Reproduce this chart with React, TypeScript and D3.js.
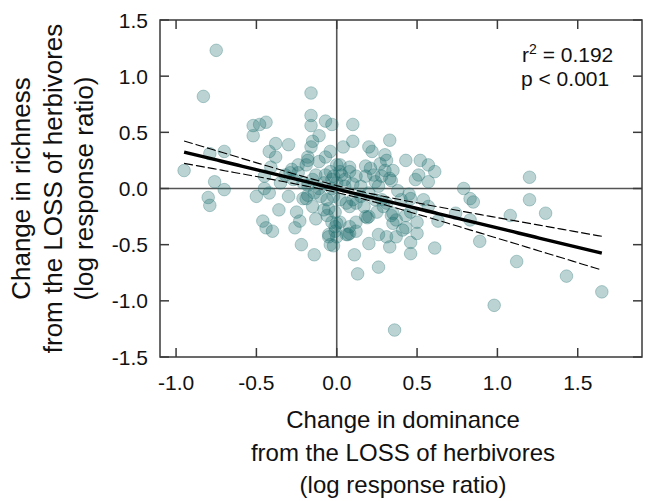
import React from "react";
import * as d3 from "d3";

const xTicks = [-1.0, -0.5, 0.0, 0.5, 1.0, 1.5];
const yTicks = [-1.5, -1.0, -0.5, 0.0, 0.5, 1.0, 1.5];

const dominance = [
  -0.75, -0.83, -0.16, -0.16, -0.16, -0.52, -0.48, -0.44, -0.52, -0.07, -0.03, 0.10, -0.11, -0.38, -0.30, -0.15, -0.16, -0.42, -0.38, -0.70,
  -0.79, -0.95, 0.04, 0.10, 0.20, 0.22, 0.33, 0.30, -0.04, -0.07, -0.18, -0.11, -0.24, -0.28, -0.41, -0.45, 0.08, 0.18, 0.21, 0.27,
  0.02, -0.02, 0.31, 0.35, 0.34, 0.43, 0.52, 0.57, 0.61, 0.51, 0.49, 0.57, 0.30, 0.00, 0.12, 0.02, 0.24, -0.18, -0.19, -0.04,
  -0.07, 0.03, 0.08, 0.18, 0.23, 0.28, 0.33, -0.13, -0.15, -0.18, -0.21, -0.27, -0.24, -0.29, -0.76, -0.70, -0.80, -0.79, -0.50, -0.45,
  -0.42, -0.36, -0.30, -0.25, -0.23, -0.26, -0.46, -0.44, -0.40, -0.22, -0.14, -0.02, -0.05, 0.02, 0.07, 0.11, 0.13, 0.20, 0.26, 0.26,
  0.18, 0.36, -0.19, 0.79, 0.83, 0.85, 1.20, 1.20, 1.30, 1.08, 0.89, 1.12, 1.43, 1.65, 0.98, 0.45, 0.46, 0.63, 0.61, 0.74,
  0.83, 0.50, 0.50, 0.46, 0.46, 0.41, 0.37, 0.33, 0.35, 0.34, 0.46, -0.21, -0.18, -0.14, -0.10, -0.06, -0.02, 0.02, 0.06, 0.10,
  0.15, 0.20, 0.24, 0.28, 0.31, -0.15, -0.08, -0.06, -0.13, -0.03, 0.00, -0.01, 0.00, 0.08, 0.12, 0.17, 0.20, 0.25, 0.29, 0.35,
  0.37, 0.43, 0.12, 0.08, 0.12, 0.06, -0.01, -0.05, -0.04, 0.08, 0.31, 0.43, 0.54, 0.57, -0.05, -0.01, -0.03, 0.00, -0.08, 0.05,
  0.10, -0.03, 0.15, 0.19, 0.05, -0.11, 0.26, 0.40, 0.38, -0.35, -0.32
];

const richness = [
  1.23, 0.82, 0.85, 0.65, 0.56, 0.56, 0.57, 0.59, 0.47, 0.60, 0.57, 0.57, 0.47, 0.40, 0.39, 0.42, 0.37, 0.33, 0.28, 0.33,
  0.31, 0.16, 0.37, 0.42, 0.37, 0.33, 0.43, 0.30, 0.33, 0.28, 0.28, 0.24, 0.21, 0.17, 0.19, 0.11, 0.19, 0.20, 0.18, 0.22,
  0.21, 0.11, 0.25, 0.16, 0.07, 0.25, 0.25, 0.21, 0.15, 0.12, 0.08, 0.06, 0.16, 0.21, 0.11, 0.15, 0.06, 0.25, 0.21, 0.15,
  0.12, 0.12, 0.15, 0.11, 0.12, 0.11, 0.09, 0.12, 0.08, 0.03, 0.05, 0.08, 0.14, 0.14, 0.06, -0.01, -0.08, -0.15, -0.07, 0.00,
  -0.04, -0.19, -0.07, -0.21, -0.29, -0.35, -0.29, -0.35, -0.38, -0.50, -0.59, -0.51, -0.43, -0.30, -0.41, -0.59, -0.76, -0.49, -0.70, -0.41,
  -0.25, -1.26, -0.09, 0.00, -0.09, -0.12, 0.10, -0.10, -0.22, -0.24, -0.47, -0.65, -0.78, -0.92, -1.04, -0.05, -0.09, -0.29, -0.53, -0.22,
  -0.28, -0.30, -0.40, -0.48, -0.58, -0.37, -0.43, -0.52, -0.31, -0.24, -0.21, -0.09, -0.06, -0.04, -0.07, -0.10, -0.07, -0.10, -0.13, -0.10,
  -0.07, -0.04, -0.10, -0.10, -0.13, -0.16, -0.19, -0.24, -0.27, -0.30, -0.31, -0.38, -0.43, -0.16, -0.13, -0.16, -0.25, -0.21, -0.16, -0.22,
  -0.28, -0.24, -0.30, -0.34, -0.38, -0.41, -0.34, -0.41, -0.50, -0.40, -0.43, -0.35, -0.10, -0.16, -0.18, -0.21, 0.08, 0.05, 0.05, 0.02,
  0.04, 0.00, 0.02, -0.26, 0.08, 0.00, 0.02, -0.10, -0.02, 0.05, 0.12
];

// fitted regression and its 95% confidence band
const fitRange = [-0.95, 1.65];
const fitIntercept = -0.005;
const fitSlope = -0.346;
const ciCenterX = 0.073;
const ciBase = 0.0009;
const ciSpread = 0.0087;

const statLines = ["r", "p < 0.001"];
const xTitle = ["Change in dominance", "from the LOSS of herbivores", "(log response ratio)"];
const yTitle = ["Change in richness", "from the LOSS of herbivores", "(log response ratio)"];

const fmt = (t: number) => d3.format(".1f")(t).replace("\u2212", "-");

export default function App() {
  const W = 670, H = 501;
  const left = 160, right = 642, top = 20, bottom = 357;
  const x = d3.scaleLinear().domain([-1.1, 1.9]).range([left, right]);
  const y = d3.scaleLinear().domain([-1.5, 1.5]).range([bottom, top]);

  const pts = dominance.map((d, i) => ({ x: d, y: richness[i] }));

  const xs = d3.range(0, 101).map((i) => fitRange[0] + (fitRange[1] - fitRange[0]) * i / 100);
  const fit = (v: number) => fitIntercept + fitSlope * v;
  const hw = (v: number) => Math.sqrt(ciBase + ciSpread * (v - ciCenterX) ** 2);
  const line = d3.line<number[]>().x((d) => x(d[0])).y((d) => y(d[1]));
  const mid = line(xs.map((v) => [v, fit(v)]))!;
  const up = line(xs.map((v) => [v, fit(v) + hw(v)]))!;
  const lo = line(xs.map((v) => [v, fit(v) - hw(v)]))!;

  const font = "'Liberation Sans', Arial, sans-serif";
  const tickLen = 9;
  const axisCol = "#3a3a3a";
  const ptCol = "#1e6e6c";
  const yMid = (top + bottom) / 2;

  return (
    <svg width={W} height={H} style={{ position: "absolute", left: 0, top: 0, background: "#fff" }} fontFamily={font}>
      <line x1={x(0)} x2={x(0)} y1={top} y2={bottom} stroke="#555" strokeWidth={1.6} />
      <line x1={left} x2={right} y1={y(0)} y2={y(0)} stroke="#555" strokeWidth={1.6} />

      {pts.map((p, i) => (
        <circle key={i} cx={x(p.x)} cy={y(p.y)} r={6.3} fill={ptCol} fillOpacity={0.3} stroke={ptCol} strokeOpacity={0.3} strokeWidth={1} />
      ))}

      <path d={up} fill="none" stroke="#000" strokeWidth={1.1} strokeDasharray="9,3" />
      <path d={lo} fill="none" stroke="#000" strokeWidth={1.1} strokeDasharray="9,3" />
      <path d={mid} fill="none" stroke="#000" strokeWidth={3.4} />

      <rect x={left} y={top} width={right - left} height={bottom - top} fill="none" stroke={axisCol} strokeWidth={1.5} />

      {xTicks.map((t) => (
        <g key={"x" + t}>
          <line x1={x(t)} x2={x(t)} y1={bottom} y2={bottom - tickLen} stroke={axisCol} strokeWidth={1.5} />
          <line x1={x(t)} x2={x(t)} y1={top} y2={top + tickLen} stroke={axisCol} strokeWidth={1.5} />
          <text x={x(t)} y={bottom + 33} fontSize={21} textAnchor="middle" fill="#111">{fmt(t)}</text>
        </g>
      ))}
      {yTicks.map((t) => (
        <g key={"y" + t}>
          <line x1={left} x2={left + tickLen} y1={y(t)} y2={y(t)} stroke={axisCol} strokeWidth={1.5} />
          <line x1={right} x2={right - tickLen} y1={y(t)} y2={y(t)} stroke={axisCol} strokeWidth={1.5} />
          <text x={left - 12} y={y(t)} dy="0.36em" fontSize={21} textAnchor="end" fill="#111">{fmt(t)}</text>
        </g>
      ))}

      <text x={522} y={62} fontSize={21} fill="#111">
        {statLines[0]}<tspan dy={-8} fontSize={14}>2</tspan><tspan dy={8}> = 0.192</tspan>
      </text>
      <text x={521} y={86} fontSize={21} fill="#111">{statLines[1]}</text>

      <g fontSize={24} fill="#111" textAnchor="middle">
        <text x={403} y={428}>{xTitle[0]}</text>
        <text x={403} y={461}>{xTitle[1]}</text>
        <text x={403} y={493}>{xTitle[2]}</text>
      </g>

      <g fontSize={26} fill="#111" textAnchor="middle">
        <text transform={`translate(30,${yMid}) rotate(-90)`}>{yTitle[0]}</text>
        <text transform={`translate(62,${yMid}) rotate(-90)`}>{yTitle[1]}</text>
        <text transform={`translate(93,${yMid}) rotate(-90)`}>{yTitle[2]}</text>
      </g>
    </svg>
  );
}
